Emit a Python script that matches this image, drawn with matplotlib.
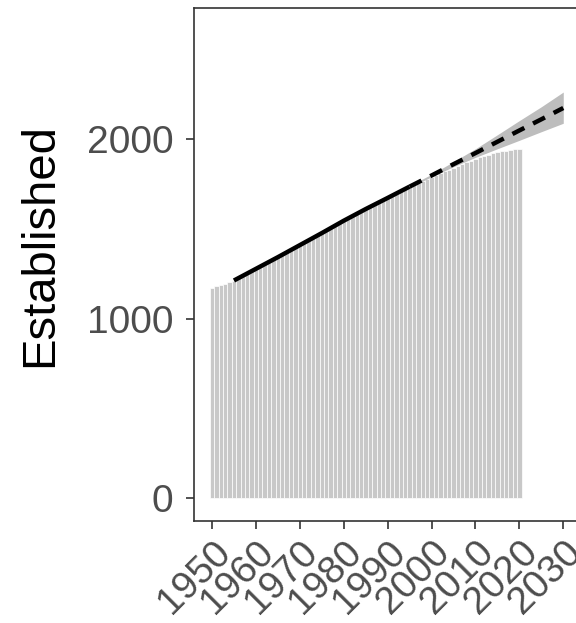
import numpy as np
import matplotlib.pyplot as plt

# yearly counts (bars)
years = list(range(1950, 2021))
established = [1170, 1180, 1188, 1195, 1203, 1212, 1225, 1238, 1252, 1265,
               1278, 1292, 1305, 1318, 1332, 1345, 1358, 1372, 1385, 1398,
               1412, 1425, 1438, 1452, 1465, 1478, 1492, 1505, 1518, 1532,
               1546, 1560, 1574, 1588, 1600, 1612, 1625, 1637, 1648, 1660,
               1672, 1684, 1696, 1708, 1720, 1732, 1744, 1756, 1768, 1779,
               1790, 1800, 1810, 1820, 1830, 1840, 1850, 1860, 1870, 1880,
               1890, 1898, 1906, 1913, 1920, 1926, 1931, 1936, 1940, 1943,
               1946]

# fitted trend (solid) and projection (dashed) with band
fit_years = [1955, 1960, 1965, 1970, 1975, 1980, 1985, 1990, 1995]
fit_vals = [1212, 1277, 1342, 1409, 1476, 1545, 1610, 1672, 1735]
proj_years = [1995, 2000, 2005, 2010, 2015, 2020, 2025, 2030]
proj_vals = [1735, 1797, 1860, 1922, 1985, 2048, 2110, 2173]
proj_lo = [1730, 1790, 1846, 1898, 1946, 1993, 2041, 2088]
proj_hi = [1740, 1804, 1874, 1946, 2024, 2103, 2180, 2262]

plt.rcParams['font.family'] = ['Liberation Sans', 'DejaVu Sans']

fig = plt.figure(figsize=(5.76, 6.23), dpi=100)
ax = fig.add_axes([0.3368, 0.1637, 0.6632, 0.8234])

ax.bar(years, established, width=1.0, color='#c8c8c8',
       edgecolor='white', linewidth=0.5, zorder=1)
ax.fill_between(proj_years, proj_lo, proj_hi, color='#bdbdbd',
                linewidth=0, zorder=2)
ax.plot(fit_years, fit_vals, color='black', lw=3.2,
        solid_capstyle='butt', zorder=3)
ax.plot(proj_years, proj_vals, color='black', lw=3.2,
        dashes=(3, 2.2), zorder=3)

ax.set_xlim(1945.9, 2032.9)
ax.set_ylim(-128, 2730)
ax.set_xticks(range(1950, 2031, 10))
ax.set_yticks([0, 1000, 2000])

ax.tick_params(axis='both', colors='#333333', length=6, width=1.2,
               labelsize=28, labelcolor='#4d4d4d')
ax.tick_params(axis='y', pad=9)
for lab in ax.get_xticklabels():
    lab.set_rotation(45)
    lab.set_ha('right')
    lab.set_va('top')
    lab.set_rotation_mode('anchor')

ax.spines['right'].set_visible(False)
for s in ['left', 'bottom', 'top']:
    ax.spines[s].set_color('#333333')
    ax.spines[s].set_linewidth(1.2)

ax.set_ylabel('Established', fontsize=34, color='black')
ax.yaxis.set_label_coords(-0.344, 0.538)

fig.savefig('out.png', dpi=100)
